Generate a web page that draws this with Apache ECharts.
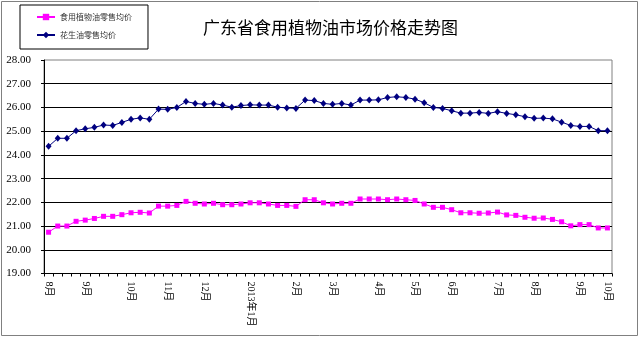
<!DOCTYPE html>
<html><head><meta charset="utf-8">
<script src="https://cdn.jsdelivr.net/npm/echarts@6/dist/echarts.min.js"></script>
<style>html,body{margin:0;padding:0;background:#fff}#c{width:640px;height:342px}</style>
</head><body><div id="c"></div>
<script>
const categories = [
  '8月','','','',
  '9月','','','','',
  '10月','','','',
  '11月','','','',
  '12月','','','','',
  '2013年1月','','','','',
  '2月','','','',
  '3月','','','','',
  '4月','','','',
  '5月','','','',
  '6月','','','','',
  '7月','','','',
  '8月','','','','',
  '9月','','',
  '10月'
];
const seriesNames = ['食用植物油零售均价', '花生油零售均价'];
const vegOil = [
  20.74, 21.00, 21.00, 21.20, 21.25, 21.32, 21.41, 21.41, 21.48, 21.56, 21.58, 21.55, 21.84, 21.84, 21.87, 22.04, 21.96, 21.93, 21.96, 21.90, 21.90,
  21.93, 21.98, 21.98, 21.93, 21.87, 21.87, 21.83, 22.11, 22.11, 21.98, 21.93, 21.96, 21.96, 22.14, 22.14, 22.14, 22.11, 22.14, 22.11, 22.08, 21.93,
  21.79, 21.79, 21.69, 21.56, 21.56, 21.54, 21.55, 21.59, 21.47, 21.45, 21.37, 21.33, 21.34, 21.28, 21.18, 21.01, 21.06, 21.06, 20.92, 20.92
];
const peanutOil = [
  24.36, 24.70, 24.70, 25.02, 25.10, 25.16, 25.26, 25.24, 25.37, 25.50, 25.56, 25.50, 25.93, 25.92, 26.00, 26.25, 26.17, 26.13, 26.17, 26.10, 26.01,
  26.08, 26.11, 26.10, 26.10, 26.01, 25.98, 25.96, 26.31, 26.29, 26.17, 26.13, 26.17, 26.10, 26.31, 26.31, 26.32, 26.42, 26.45, 26.42, 26.35, 26.20,
  26.00, 25.96, 25.86, 25.76, 25.76, 25.79, 25.75, 25.82, 25.75, 25.69, 25.61, 25.54, 25.55, 25.52, 25.38, 25.24, 25.20, 25.20, 25.02, 25.02
];
const yMin = 19, yMax = 28, yStep = 1;
const titleText = '广东省食用植物油市场价格走势图';

const chart = echarts.init(document.getElementById('c'), null, {renderer: 'canvas'});
chart.setOption({
  animation: false,
  backgroundColor: '#fff',
  graphic: [{
    type: 'rect', shape: {x: 1.5, y: 1.5, width: 636, height: 334},
    style: {fill: 'none', stroke: '#808080', lineWidth: 1}, silent: true
  }],
  title: {
    text: titleText, left: 198, top: 14,
    textStyle: {fontFamily: 'Noto Sans CJK SC', fontSize: 17, fontWeight: 'normal', color: '#000'}
  },
  legend: {
    orient: 'vertical', left: 20, top: 5,
    padding: [7, 16, 9, 16], itemGap: 8,
    itemWidth: 18, itemHeight: 8,
    borderColor: '#000', borderWidth: 1,
    data: seriesNames,
    textStyle: {fontFamily: 'Noto Sans CJK SC', fontSize: 8, color: '#333', lineHeight: 10}
  },
  grid: {left: 44, right: 28, top: 60, bottom: 68.5, show: true, borderColor: '#808080', borderWidth: 1, backgroundColor: 'transparent'},
  xAxis: {
    type: 'category', data: categories, boundaryGap: true,
    axisLine: {lineStyle: {color: '#000', width: 1}},
    axisTick: {show: true, interval: 0, length: 3, lineStyle: {color: '#000'}},
    axisLabel: {interval: 0, rotate: -90, margin: 8, fontFamily: 'Liberation Serif, Noto Sans CJK SC', fontSize: 10, color: '#000'},
    splitLine: {show: false}
  },
  yAxis: {
    type: 'value', min: yMin, max: yMax, interval: yStep,
    axisLine: {show: true, lineStyle: {color: '#000', width: 1}},
    axisTick: {show: true, length: 3, lineStyle: {color: '#000'}},
    axisLabel: {margin: 13, fontFamily: 'Liberation Serif', fontSize: 11, color: '#000', formatter: v => v.toFixed(2)},
    splitLine: {show: true, showMaxLine: false, lineStyle: {color: '#000', width: 1}}
  },
  series: [
    {
      name: seriesNames[0], type: 'line', data: vegOil,
      symbol: 'rect', symbolSize: 5, showSymbol: true,
      itemStyle: {color: '#FF00FF'}, lineStyle: {color: '#FF00FF', width: 1}
    },
    {
      name: seriesNames[1], type: 'line', data: peanutOil,
      symbol: 'diamond', symbolSize: [6, 7], showSymbol: true,
      itemStyle: {color: '#000080'}, lineStyle: {color: '#000080', width: 1}
    }
  ]
});
</script>
</body></html>
